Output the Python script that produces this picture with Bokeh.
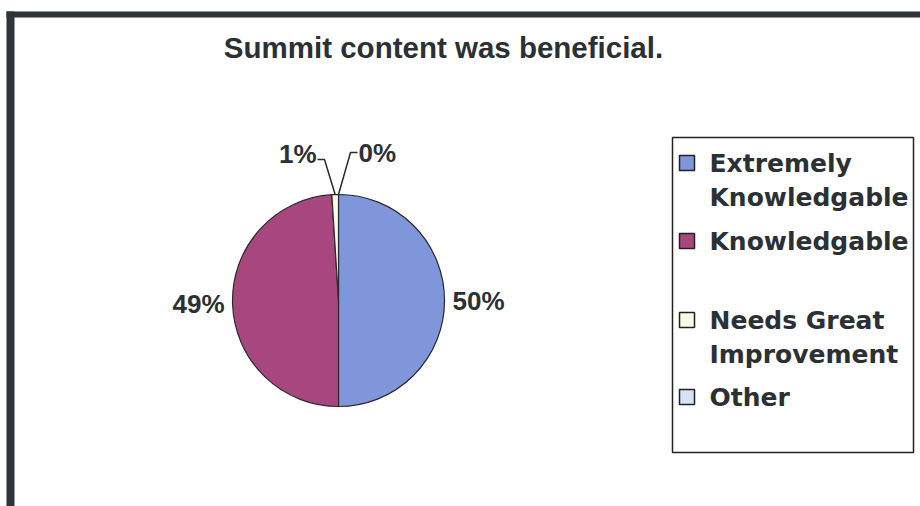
import math
from bokeh.plotting import figure
from bokeh.models import ColumnDataSource, Range1d
from bokeh.core.properties import value
from bokeh.embed import file_html
from bokeh.resources import INLINE

# ---- data ----
categories = ["Extremely Knowledgable", "Knowledgable", "Needs Great Improvement", "Other"]
values = [50, 49, 1, 0]
colors = ["#7F96DA", "#A8477F", "#FAFAE2", "#D6E3F5"]
legend_lines = [["Extremely", "Knowledgable"], ["Knowledgable"], ["Needs Great", "Improvement"], ["Other"]]
title_text = "Summit content was beneficial."

# ---- layout (page pixel helpers) ----
W, H = 920, 506
def X(px):
    return px
def Y(py):
    return H - py

p = figure(width=W, height=H, output_backend="svg", toolbar_location=None,
           x_range=Range1d(0, W), y_range=Range1d(0, H), min_border=0)
p.axis.visible = False
p.grid.visible = False
p.outline_line_color = None
p.background_fill_color = "white"
p.border_fill_color = "white"

# frame borders (scanned slide frame)
p.quad(left=[X(6)], right=[X(14)], bottom=[Y(506)], top=[Y(11)], fill_color="#2E3438", line_color=None)
p.quad(left=[X(6)], right=[X(920)], bottom=[Y(17)], top=[Y(11)], fill_color="#2E3438", line_color=None)

# title
p.text(x=[X(443)], y=[Y(47)], text=[title_text], text_font=value("Liberation Sans"),
       text_font_style="bold", text_font_size="29.5px", text_color="#2B3034",
       text_align="center", text_baseline="middle")

# ---- pie ----
cx, cy, r = X(338), Y(300), 106
total = float(sum(values))
starts, ends, mids = [], [], []
cum = 0.0
for v in values:
    a0 = math.pi / 2 - 2 * math.pi * cum / total
    cum += v
    a1 = math.pi / 2 - 2 * math.pi * cum / total
    starts.append(a0); ends.append(a1); mids.append((a0 + a1) / 2)

idx = [i for i, v in enumerate(values) if v > 0]
wsrc = ColumnDataSource(dict(start=[starts[i] for i in idx], end=[ends[i] for i in idx],
                             color=[colors[i] for i in idx]))
p.wedge(x=cx, y=cy, radius=r, start_angle="start", end_angle="end", direction="clock",
        fill_color="color", line_color="#2A2A2A", line_width=1.2, source=wsrc)

# labels
pct = ["%d%%" % round(v / total * 100) for v in values]
lab_font = value("Liberation Sans")
big_x, big_y, big_t, big_a = [], [], [], []
for i, v in enumerate(values):
    if v / total >= 0.05:
        ang = mids[i]
        pad = 8
        big_x.append(cx + (r + pad) * math.cos(ang))
        big_y.append(cy + (r + pad) * math.sin(ang))
        big_t.append(pct[i])
        big_a.append("left" if math.cos(ang) > 0 else "right")
p.text(x=big_x, y=big_y, text=big_t, text_align=big_a, text_baseline="middle",
       text_font=lab_font, text_font_style="bold", text_font_size="26px", text_color="#2B3034")

# small slices: leader lines to pushed-up labels (elbow offsets are layout)
# (dx, dy of elbow from centre, side, label centre height above centre)
elbows = {2: (-14, 141, -1, 147), 3: (12, 148, 1, 147.5)}
for i, (dx, dy, side, ly) in elbows.items():
    ang = mids[i]
    ex, ey = cx + r * math.cos(ang), cy + r * math.sin(ang)
    bx, by = cx + dx, cy + dy
    hx = bx + side * 7
    p.line(x=[ex, bx, hx], y=[ey, by, by], line_color="#2A2A2A", line_width=1.5)
    p.text(x=[hx + side * 1], y=[cy + ly], text=[pct[i]], text_align="left" if side > 0 else "right",
           text_baseline="middle", text_font=lab_font, text_font_style="bold",
           text_font_size="26px", text_color="#2B3034")

# ---- legend ----
p.quad(left=[X(672)], right=[X(913)], top=[Y(137)], bottom=[Y(452)], fill_color="white",
       line_color="#222222", line_width=1.5)
sq_y = [162.5, 240.5, 319.5, 396.5]
p.rect(x=[X(686.5)] * len(categories), y=[Y(v) for v in sq_y], width=15, height=15,
       fill_color=colors, line_color="#222222", line_width=1.5)
row_mid = [[162.5, 196.5], [240.5], [319.5, 353.5], [396.5]]
tx, ty, tt = [], [], []
for lines, mids_y in zip(legend_lines, row_mid):
    for t, m in zip(lines, mids_y):
        tx.append(X(709)); ty.append(Y(m)); tt.append(t)
p.text(x=tx, y=ty, text=tt, text_align="left", text_baseline="middle",
       text_font=value("DejaVu Sans"), text_font_style="bold", text_font_size="25px",
       text_color="#2B3034")

open("out.html", "w").write(file_html(p, INLINE))
